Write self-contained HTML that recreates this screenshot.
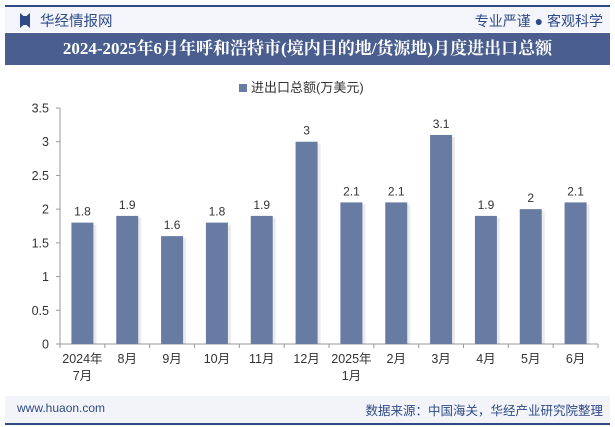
<!DOCTYPE html>
<html><head><meta charset="utf-8"><style>
body{margin:0;width:615px;height:427px;background:#fff;font-family:"Liberation Sans","Noto Sans CJK SC",sans-serif;overflow:hidden;position:relative}
.abs{position:absolute}
</style></head><body>
<div class="abs" style="left:5px;top:5px;width:605px;height:2px;background:#2f4a86"></div>
<div class="abs" style="left:5px;top:7px;width:605px;height:25px;background:#f3f5fa"></div>
<div class="abs" style="left:20px;top:13px;width:10px;height:15px;background:#2f4a86;clip-path:polygon(0 0,35% 20%,65% 20%,100% 0,100% 100%,65% 80%,35% 80%,0 100%)"></div>
<div class="abs" style="left:40px;top:10px;font-size:14.5px;color:#2f4a86">华经情报网</div>
<div class="abs" style="right:12px;top:11px;font-size:14px;color:#2f4a86">专业严谨 ● 客观科学</div>
<div class="abs" style="left:5px;top:33px;width:605px;height:32px;background:#4a5f8f;color:#fff;font-size:17px;font-weight:bold;text-align:center;line-height:32px;font-family:'Liberation Serif','Noto Serif CJK SC',serif">2024-2025年6月年呼和浩特市(境内目的地/货源地)月度进出口总额</div>
<div class="abs" style="left:239px;top:77px;font-size:13px;color:#333"><span style="display:inline-block;width:8px;height:8px;background:#687ca3;margin-right:4px"></span>进出口总额(万美元)</div>
<svg class="abs" style="left:0;top:0" width="615" height="427" id="chart"></svg>
<div class="abs" style="left:5px;top:396px;width:605px;height:27px;background:#f2f4f9"></div>
<div class="abs" style="left:17px;top:401px;font-size:12px;color:#2f4a86">www.huaon.com</div>
<div class="abs" style="right:12px;top:400px;font-size:12.5px;color:#2f4a86">数据来源：中国海关，华经产业研究院整理</div>
<div class="abs" style="left:5px;top:423px;width:605px;height:2px;background:#2f4a86"></div>
<script>
const categories=[["2024年","7月"],["8月"],["9月"],["10月"],["11月"],["12月"],["2025年","1月"],["2月"],["3月"],["4月"],["5月"],["6月"]];
const values=[1.8,1.9,1.6,1.8,1.9,3,2.1,2.1,3.1,1.9,2,2.1];
const labels=["1.8","1.9","1.6","1.8","1.9","3","2.1","2.1","3.1","1.9","2","2.1"];
const yTicks=[0,0.5,1,1.5,2,2.5,3,3.5];
const NS="http://www.w3.org/2000/svg",svg=document.getElementById('chart');
const x0=60,x1=598,y0=344,yTop=108,yMax=3.5;
const band=(x1-x0)/categories.length;
const y=v=>y0-(v/yMax)*(y0-yTop);
const xc=i=>x0+band*(i+0.5);
function mk(t,a,txt){const e=document.createElementNS(NS,t);for(const k in a)e.setAttribute(k,a[k]);if(txt!==undefined)e.textContent=txt;svg.appendChild(e);return e;}
let e=mk('line',{x1:x0,y1:yTop,x2:x0,y2:y0,stroke:'#999'});


e=mk('line',{x1:x0,y1:y0,x2:x1,y2:y0,stroke:'#999'});


yTicks.forEach(v=>{
 const t=mk('line',{x1:x0-4,y1:y(v),x2:x0,y2:y(v),stroke:'#999'});
 
 
 const l=mk('text',{x:x0-11,y:y(v)+4.5,'text-anchor':'end','font-size':12.5,fill:'#333'},String(v));
 
 
});
for(let i=0;i<=categories.length;i++){
 const t=mk('line',{x1:x0+band*i,y1:y0,x2:x0+band*i,y2:y0+4,stroke:'#999'});
 
 
}
values.forEach((v,i)=>{
 const s=mk('rect',{x:xc(i)-11+3,y:y(v)+2,width:22,height:y0-y(v)-2,fill:'#000',opacity:0.08});
 
 
 const b=mk('rect',{x:xc(i)-11,y:y(v),width:22,height:y0-y(v),fill:'#687ca3'});
 
 
 const l=mk('text',{x:xc(i),y:y(v)-7,'text-anchor':'middle','font-size':12,fill:'#333'},labels[i]);
 
 
 categories[i].forEach((c,j)=>{
  const t=mk('text',{x:xc(i),y:y0+19+j*17,'text-anchor':'middle','font-size':12.5,fill:'#333'},c);
  
  
 });
});
</script>
</body></html>
